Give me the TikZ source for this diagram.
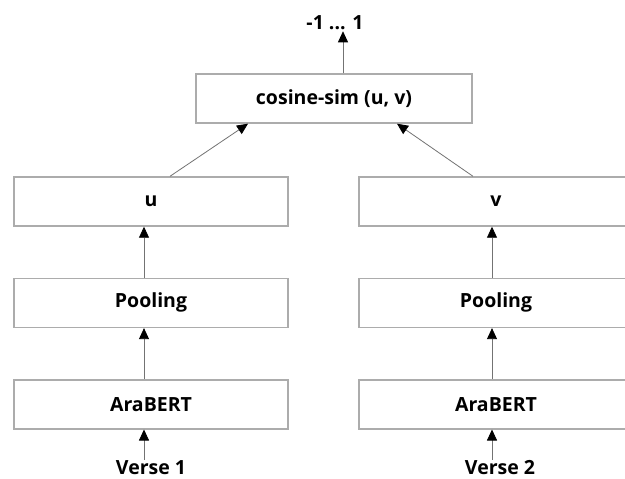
\documentclass[tikz,border=0pt]{standalone}
\usepackage{fontspec}
\setmainfont{Open Sans}
\usetikzlibrary{arrows.meta,positioning}

\begin{document}
\begin{tikzpicture}[
    x=1pt, y=-1pt,
    node distance=51pt,
    box/.style={rectangle, draw=gray!65, line width=1.4pt, minimum width=274pt, minimum height=49pt, font=\bfseries\fontsize{19.5}{22}\selectfont},
    txt/.style={font=\bfseries\fontsize{19.5}{22}\selectfont, inner sep=1pt},
    arrow/.style={-{Triangle[width=10pt,length=11pt,color=black]}, draw=black!55, line width=0.8pt}
]
\clip (0,0) rectangle (625,479);

% Similarity
\node[box, minimum width=276pt] (cos) at (334,98.5) {cosine-sim (u, v)};
\node[txt] (score) at (335,23) {-1 ... 1};

% Left branch
\node[box] (u) at (151,201.5) {u};
\node[box, below=of u] (pool1) {Pooling};
\node[box, below=of pool1] (bert1) {AraBERT};
\node[txt] (verse1) at (151,468) {Verse 1};

% Right branch
\node[box] (v) at (496,201.5) {v};
\node[box, below=of v] (pool2) {Pooling};
\node[box, below=of pool2] (bert2) {AraBERT};
\node[txt] (verse2) at (500,468) {Verse 2};

% Arrows
\draw[arrow] ([xshift=-7pt]verse1.north) -- ([xshift=-7pt]bert1.south);
\draw[arrow] ([xshift=-7pt]bert1.north) -- ([xshift=-7pt]pool1.south);
\draw[arrow] ([xshift=-7pt]pool1.north) -- ([xshift=-7pt]u.south);
\draw[arrow] ([xshift=-8pt]verse2.north) -- ([xshift=-4pt]bert2.south);
\draw[arrow] ([xshift=-4pt]bert2.north) -- ([xshift=-4pt]pool2.south);
\draw[arrow] ([xshift=-4pt]pool2.north) -- ([xshift=-4pt]v.south);
\draw[arrow] ([xshift=19pt]u.north) -- ([xshift=-86pt]cos.south);
\draw[arrow] ([xshift=-23pt]v.north) -- ([xshift=63pt]cos.south);
\draw[arrow] ([xshift=9pt]cos.north) -- ([xshift=9pt]cos.north |- score.south);

\end{tikzpicture}
\end{document}
